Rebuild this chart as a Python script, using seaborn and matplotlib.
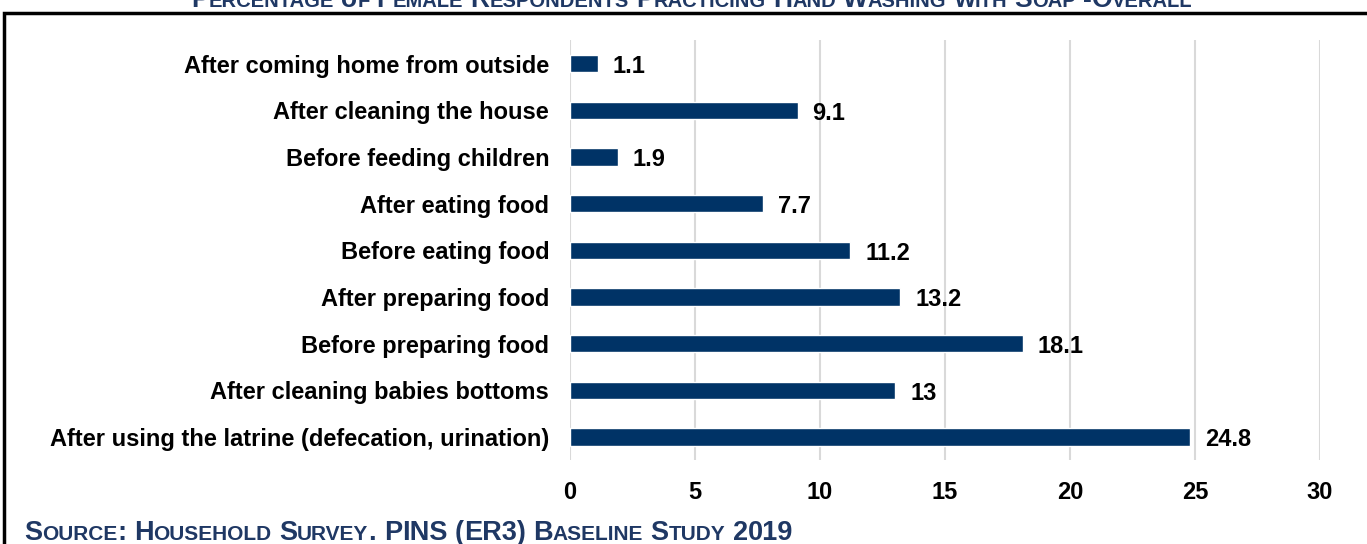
import numpy as np
import pandas as pd
import seaborn as sns
import matplotlib.pyplot as plt
from matplotlib.patches import Rectangle

# Data (top to bottom)
practices = ['After coming home from outside', 'After cleaning the house',
             'Before feeding children', 'After eating food', 'Before eating food',
             'After preparing food', 'Before preparing food',
             'After cleaning babies bottoms',
             'After using the latrine (defecation, urination)']
percent = [1.1, 9.1, 1.9, 7.7, 11.2, 13.2, 18.1, 13, 24.8]
value_labels = ['1.1', '9.1', '1.9', '7.7', '11.2', '13.2', '18.1', '13', '24.8']
x_ticks = [0, 5, 10, 15, 20, 25, 30]

df = pd.DataFrame({'Practice': practices, 'Percent': percent})

sns.set_theme(style='white')
plt.rcParams['font.family'] = ['Liberation Sans', 'DejaVu Sans']

navy = '#003366'
text_navy = '#1F3864'
fs = 17

fig = plt.figure(figsize=(13.67, 5.44), dpi=100)
ax = fig.add_axes([0.417, 0.154, 0.5486, 0.772])

sns.barplot(data=df, y='Practice', x='Percent', color=navy, width=0.37,
            saturation=1, ax=ax, orient='h')

ax.set_xlim(0, 30)
ax.set_ylim(len(practices) - 0.5, -0.5)
ax.set_xticks(x_ticks)
ax.set_xticklabels([str(t) for t in x_ticks], fontsize=fs, fontweight='bold', color='black')
ax.tick_params(axis='x', pad=15, length=0)
ax.tick_params(axis='y', length=0, pad=15, labelsize=fs, labelcolor='black')
for lbl in ax.get_yticklabels():
    lbl.set_fontweight('bold')
ax.set_xlabel('')
ax.set_ylabel('')
ax.grid(axis='x', color='#D9D9D9', linewidth=1.5)
ax.set_axisbelow(True)
for s in ax.spines.values():
    s.set_visible(False)

# value labels at bar ends
for i, (v, t) in enumerate(zip(percent, value_labels)):
    ax.text(v + 0.6, i + 0.06, t, va='center', ha='left', fontsize=fs,
            fontweight='bold', color='black')

# frame around the chart
fig.patches.append(Rectangle((4 / 1367, -0.05), 1.1, 1 - 13 / 544 + 0.05,
                             transform=fig.transFigure, fill=False,
                             edgecolor='black', linewidth=2.5, clip_on=False))


def small_caps(x, y, text, big, small, ha='left'):
    # draw text in small caps by chaining pieces
    pieces = []
    for word_i, word in enumerate(text.split(' ')):
        if word_i > 0:
            pieces.append((' ', small))
        pieces.append((word[0], big))
        cur, cur_size = '', None
        for ch in word[1:]:
            size = small if ch.islower() else big
            if cur_size is None or size == cur_size:
                cur += ch
                cur_size = size
            else:
                pieces.append((cur.upper(), cur_size))
                cur, cur_size = ch, size
        if cur:
            pieces.append((cur.upper(), cur_size))
    renderer = fig.canvas.get_renderer()
    widths = []
    for s, size in pieces:
        if s == ' ':
            widths.append(size * 0.36 * 100 / 72)
            continue
        t = fig.text(0, 0, s, fontsize=size, fontweight='bold')
        widths.append(t.get_window_extent(renderer).width)
        t.remove()
    total = sum(widths)
    x_px = x * fig.bbox.width
    if ha == 'center':
        x_px -= total / 2
    for (s, size), w in zip(pieces, widths):
        if s != ' ':
            fig.text(x_px / fig.bbox.width, y, s, fontsize=size, fontweight='bold',
                     color=text_navy, va='baseline', ha='left')
        x_px += w


fig.canvas.draw()
small_caps(0.506, 1 - 7 / 544, 'Percentage of Female Respondents Practicing Hand Washing with Soap -Overall',
           19, 14.5, ha='center')
small_caps(24 / 1367, 1 - 540 / 544, 'Source: Household Survey. PINS (ER3) Baseline Study 2019',
           19.5, 15)

fig.savefig('out.png', dpi=100)
